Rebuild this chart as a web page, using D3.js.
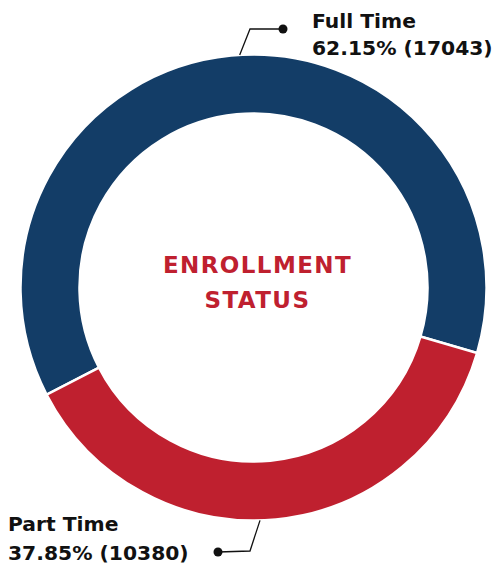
<!DOCTYPE html>
<html>
<head>
<meta charset="utf-8">
<script src="https://cdn.jsdelivr.net/npm/d3@7"></script>
<style>
  body { margin: 0; background: #fff; }
  text { font-family: "DejaVu Sans", sans-serif; font-weight: bold; }
</style>
</head>
<body>
<svg id="chart"></svg>
<script>
var categories = ['Full Time', 'Part Time'];
var counts = [17043, 10380];
var percents = ['62.15%', '37.85%'];
var colors = ['#133d67', '#bf202f'];
var title = ['ENROLLMENT', 'STATUS'];

var width = 497;
var height = 570;
var cx = 253.5, cy = 287.5;
var outerR = 233, innerR = 174;

var svg = d3.select('#chart')
	.attr('width', width)
	.attr('height', height);

var g = svg.append('g')
	.attr('transform', 'translate(' + cx + ',' + cy + ')');

var data = categories.map(function(c, i) {
	return {name: c, value: counts[i], pct: percents[i], color: colors[i]};
});

var pie = d3.pie()
	.sort(null)
	.value(function(d) { return d.value; })
	.startAngle(-117.4 * Math.PI / 180)
	.endAngle(242.6 * Math.PI / 180);

var arc = d3.arc()
	.innerRadius(innerR)
	.outerRadius(outerR);

var arcs = pie(data);

g.selectAll('path')
	.data(arcs)
	.enter().append('path')
	.attr('d', arc)
	.attr('fill', function(d) { return d.data.color; })
	.attr('stroke', '#fff')
	.attr('stroke-width', 2.5);

// center title
g.selectAll('text.title')
	.data(title)
	.enter().append('text')
	.attr('class', 'title')
	.attr('x', 4)
	.attr('y', function(d, i) { return -15 + i * 35; })
	.attr('text-anchor', 'middle')
	.attr('fill', colors[1])
	.style('font-size', '23px')
	.style('letter-spacing', '1.4px')
	.text(function(d) { return d; });

// leader lines + labels
var labelPos = [
	{edge: -3.4, elbow: [250, 29], dot: [283, 29], tx: 312, ty: [28, 55]},
	{edge: 178.4, elbow: [250, 551], dot: [218, 552], tx: 8, ty: [531, 560]}
];

arcs.forEach(function(a, i) {
	var p = labelPos[i];
	var angE = p.edge * Math.PI / 180;
	var ex = cx + outerR * Math.sin(angE);
	var ey = cy - outerR * Math.cos(angE);
	svg.append('polyline')
		.attr('points', [[ex, ey], p.elbow, p.dot].map(function(q) { return q.join(','); }).join(' '))
		.attr('fill', 'none')
		.attr('stroke', '#111')
		.attr('stroke-width', 1.3);
	svg.append('circle')
		.attr('cx', p.dot[0])
		.attr('cy', p.dot[1])
		.attr('r', 4.5)
		.attr('fill', '#111');
	var lines = [a.data.name, a.data.pct + ' (' + a.data.value + ')'];
	svg.selectAll(null)
		.data(lines)
		.enter().append('text')
		.attr('x', p.tx)
		.attr('y', function(d, j) { return p.ty[j]; })
		.attr('fill', '#111')
		.style('font-size', '20.3px')
		.text(function(d) { return d; });
});
</script>
</body>
</html>
